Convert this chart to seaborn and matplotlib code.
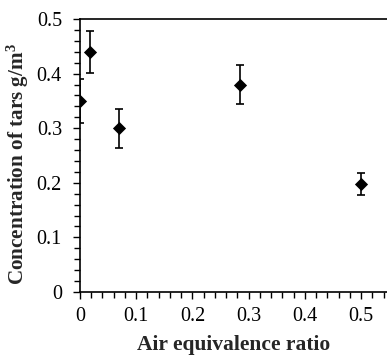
import matplotlib
matplotlib.use("Agg")
import matplotlib.pyplot as plt
import seaborn as sns
import pandas as pd
from matplotlib.ticker import MultipleLocator

air_ratio = [0.0, 0.017, 0.07, 0.285, 0.5]
tar_conc = [0.35, 0.44, 0.30, 0.38, 0.198]
tar_err = [0.04, 0.038, 0.036, 0.036, 0.02]

df = pd.DataFrame({"ratio": air_ratio, "tar": tar_conc, "err": tar_err})

sns.set_theme(style="ticks")
plt.rcParams['font.family'] = ['Liberation Serif', 'DejaVu Serif']
plt.rcParams['mathtext.fontset'] = 'custom'
plt.rcParams['mathtext.rm'] = 'Liberation Serif'
plt.rcParams['mathtext.bf'] = 'Liberation Serif:bold'

fig = plt.figure(figsize=(3.87, 3.59), dpi=100)
ax = fig.add_axes([80/387, 1-292/359, 1-80/387, (292-19)/359])

ax.errorbar(df["ratio"], df["tar"], yerr=df["err"], fmt='none', ecolor='black',
            elinewidth=1.2, capsize=3, capthick=1.2, zorder=2)
sns.scatterplot(data=df, x="ratio", y="tar", marker='D', color='black', s=45,
                edgecolor='black', linewidth=0, ax=ax, zorder=3)

ax.set_xlim(0, 0.546)
ax.set_ylim(0, 0.5)
ax.xaxis.set_minor_locator(MultipleLocator(0.02))
ax.yaxis.set_minor_locator(MultipleLocator(0.02))
ax.set_xticks([0, 0.1, 0.2, 0.3, 0.4, 0.5])
ax.set_xticklabels(["0", "0.1", "0.2", "0.3", "0.4", "0.5"])
ax.set_yticks([0, 0.1, 0.2, 0.3, 0.4, 0.5])
ax.set_yticklabels(["0", "0.1", "0.2", "0.3", "0.4", "0.5"])

ax.tick_params(axis='x', which='major', direction='out', length=5, width=1,
               labelsize=14.5, colors='black', pad=6)
ax.tick_params(axis='y', which='major', direction='out', length=5, width=1,
               labelsize=14.5, colors='black', pad=8)
ax.tick_params(axis='both', which='minor', direction='out', length=4, width=1, colors='black')

for s in ['left', 'bottom', 'top']:
    ax.spines[s].set_color('black')
    ax.spines[s].set_linewidth(1.2)
ax.spines['right'].set_visible(False)

ax.set_xlabel("Air equivalence ratio", fontsize=15.5, fontweight='bold', labelpad=6)
ax.set_ylabel(r"Concentration of tars g/m$\mathbf{^3}$", fontsize=15.2, fontweight='bold')
ax.yaxis.set_label_coords(-0.158, 0.469)

fig.savefig("out.png", dpi=100)
